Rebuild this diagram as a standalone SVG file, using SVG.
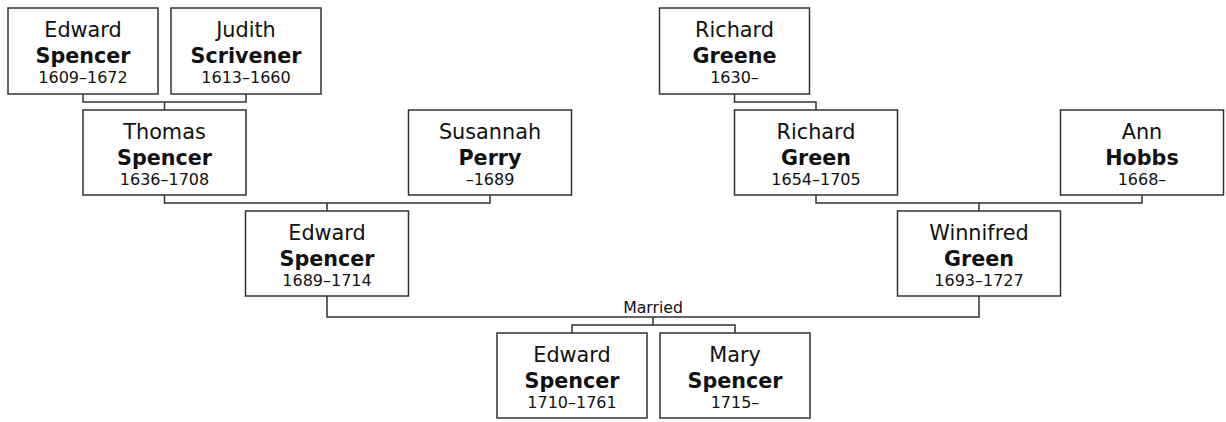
<svg xmlns="http://www.w3.org/2000/svg" width="1226" height="422" viewBox="0 0 1226 422">
<style>
.box{fill:#fff;stroke:#333;stroke-width:1.5}
.ln{fill:none;stroke:#333;stroke-width:1.5}
text{font-family:"DejaVu Sans","Verdana",sans-serif;text-anchor:middle;fill:#111}
.fn{font-size:20.8px}
.sn{font-size:20.7px;font-weight:bold}
.dt{font-size:16px}
.lbl{font-size:15.7px}
</style>
<rect width="1226" height="422" fill="#fff"/>
<g id="connectors">
<path class="ln" d="M83,94 V102 H246 V94 M164.5,102 V110"/>
<path class="ln" d="M164.5,195 V203 H490 V195 M327,203 V211"/>
<path class="ln" d="M734.5,94 V102 H816 V110"/>
<path class="ln" d="M816,195 V203 H1142 V195 M979,203 V211"/>
<path class="ln" d="M327,296 V317 H979 V296 M653,317 V325 M572,333 V325 H735 V333"/>
<text class="lbl" x="653" y="313">Married</text>
</g>
<g id="edward-spencer-1609">
<rect class="box" x="8" y="8" width="150" height="86"/>
<text class="fn" x="83" y="37">Edward</text>
<text class="sn" x="83" y="63">Spencer</text>
<text class="dt" x="83" y="83">1609–1672</text>
</g>
<g id="judith-scrivener">
<rect class="box" x="171" y="8" width="150" height="86"/>
<text class="fn" x="246" y="37">Judith</text>
<text class="sn" x="246" y="63">Scrivener</text>
<text class="dt" x="246" y="83">1613–1660</text>
</g>
<g id="thomas-spencer">
<rect class="box" x="83" y="110" width="163" height="85"/>
<text class="fn" x="164.5" y="139">Thomas</text>
<text class="sn" x="164.5" y="165">Spencer</text>
<text class="dt" x="164.5" y="185">1636–1708</text>
</g>
<g id="susannah-perry">
<rect class="box" x="408.5" y="110" width="163" height="85"/>
<text class="fn" x="490" y="139">Susannah</text>
<text class="sn" x="490" y="165">Perry</text>
<text class="dt" x="490" y="185">–1689</text>
</g>
<g id="edward-spencer-1689">
<rect class="box" x="245.5" y="211" width="163" height="85"/>
<text class="fn" x="327" y="240">Edward</text>
<text class="sn" x="327" y="266">Spencer</text>
<text class="dt" x="327" y="286">1689–1714</text>
</g>
<g id="richard-greene">
<rect class="box" x="659.5" y="8" width="150" height="86"/>
<text class="fn" x="734.5" y="37">Richard</text>
<text class="sn" x="734.5" y="63">Greene</text>
<text class="dt" x="734.5" y="83">1630–</text>
</g>
<g id="richard-green">
<rect class="box" x="734.5" y="110" width="163" height="85"/>
<text class="fn" x="816" y="139">Richard</text>
<text class="sn" x="816" y="165">Green</text>
<text class="dt" x="816" y="185">1654–1705</text>
</g>
<g id="ann-hobbs">
<rect class="box" x="1060.5" y="110" width="163" height="85"/>
<text class="fn" x="1142" y="139">Ann</text>
<text class="sn" x="1142" y="165">Hobbs</text>
<text class="dt" x="1142" y="185">1668–</text>
</g>
<g id="winnifred-green">
<rect class="box" x="897.5" y="211" width="163" height="85"/>
<text class="fn" x="979" y="240">Winnifred</text>
<text class="sn" x="979" y="266">Green</text>
<text class="dt" x="979" y="286">1693–1727</text>
</g>
<g id="edward-spencer-1710">
<rect class="box" x="497" y="333" width="150" height="85"/>
<text class="fn" x="572" y="362">Edward</text>
<text class="sn" x="572" y="388">Spencer</text>
<text class="dt" x="572" y="408">1710–1761</text>
</g>
<g id="mary-spencer">
<rect class="box" x="660" y="333" width="150" height="85"/>
<text class="fn" x="735" y="362">Mary</text>
<text class="sn" x="735" y="388">Spencer</text>
<text class="dt" x="735" y="408">1715–</text>
</g>
</svg>
